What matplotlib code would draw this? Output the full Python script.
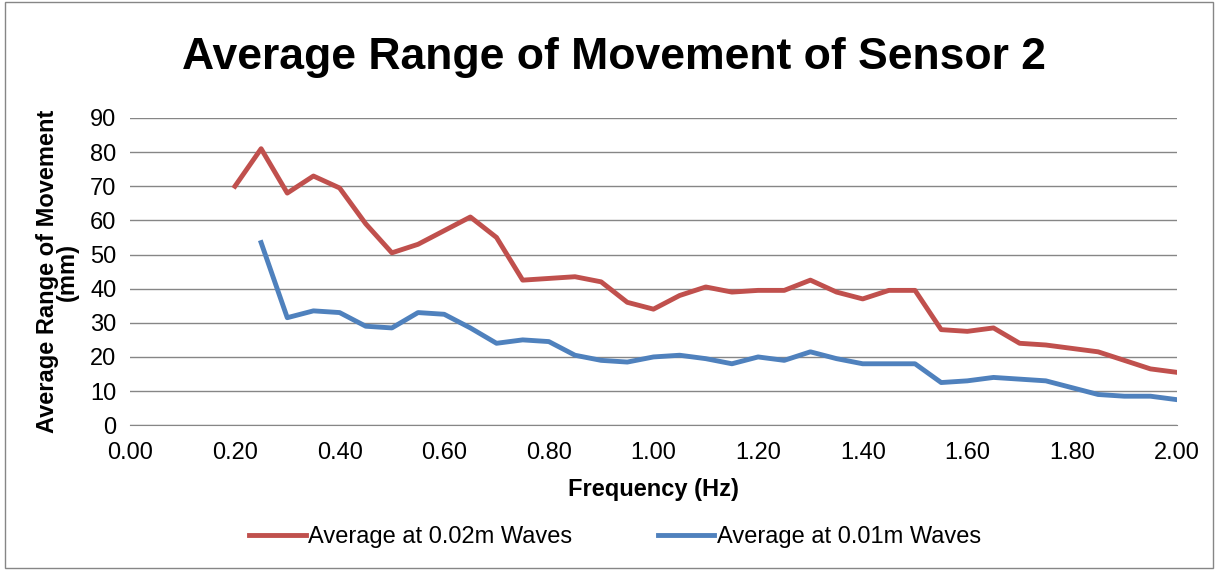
import numpy as np
import matplotlib.pyplot as plt

freq_red = np.round(np.arange(0.20, 2.001, 0.05), 2)
red = [70, 81, 68, 73, 69.5, 59, 50.5, 53, 57, 61, 55, 42.5, 43, 43.5, 42, 36, 34, 38, 40.5,
       39, 39.5, 39.5, 42.5, 39, 37, 39.5, 39.5, 28, 27.5, 28.5, 24, 23.5, 22.5, 21.5, 19, 16.5, 15.5]
freq_blue = np.round(np.arange(0.25, 2.001, 0.05), 2)
blue = [53.5, 31.5, 33.5, 33, 29, 28.5, 33, 32.5, 28.5, 24, 25, 24.5, 20.5, 19, 18.5, 20, 20.5,
        19.5, 18, 20, 19, 21.5, 19.5, 18, 18, 18, 12.5, 13, 14, 13.5, 13, 11, 9, 8.5, 8.5, 7.5]

plt.rcParams['font.family'] = ['Liberation Sans', 'DejaVu Sans']
fig = plt.figure(figsize=(12.18, 5.70), dpi=100)
ax = fig.add_axes([0.107, 0.254, 0.859, 0.539])
ax.plot(freq_red, red, color='#C0504D', lw=3.5, label='Average at 0.02m Waves')
ax.plot(freq_blue, blue, color='#4F81BD', lw=3.5, label='Average at 0.01m Waves')
ax.set_xlim(0, 2)
ax.set_ylim(0, 90)
ax.set_xticks(np.arange(0, 2.01, 0.2))
ax.set_xticklabels([f'{v:.2f}' for v in np.arange(0, 2.01, 0.2)])
ax.set_yticks(range(0, 91, 10))
ax.grid(axis='y', color='#868686', lw=1)
ax.tick_params(labelsize=17, length=0)
ax.tick_params(axis='x', pad=12)
ax.tick_params(axis='y', pad=10)
for s in ['top', 'right', 'left']:
    ax.spines[s].set_visible(False)
ax.spines['bottom'].set_color('#868686')
ax.set_axisbelow(True)
ax.set_xlabel('Frequency (Hz)', fontsize=17, fontweight='bold', labelpad=10)
ax.set_ylabel('Average Range of Movement\n(mm)', fontsize=17, fontweight='bold', labelpad=8, linespacing=0.85)
fig.text(0.504, 0.9, 'Average Range of Movement of Sensor 2', fontsize=32, fontweight='bold',
         ha='center', va='center')
fig.legend(loc='center', bbox_to_anchor=(0.505, 0.058), ncol=2, frameon=False, fontsize=17,
           handlelength=2.4, columnspacing=3.6, handletextpad=0.1)
fig.patches.append(plt.Rectangle((0.004, 0.004), 0.992, 0.992, transform=fig.transFigure,
                                 fill=False, edgecolor='#868686', lw=1))
fig.savefig('out.png')
